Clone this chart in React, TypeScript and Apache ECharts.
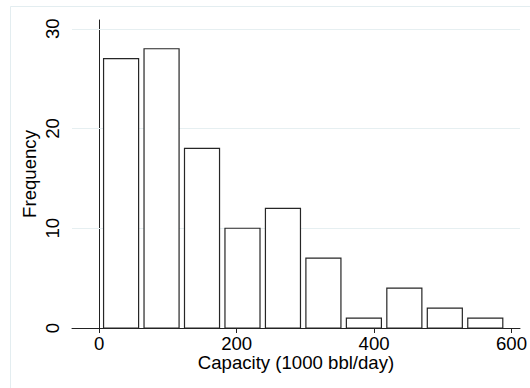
import React, { useEffect, useRef } from "react";
import * as echarts from "echarts";

// Histogram bin edges (1000 bbl/day) and frequencies
const binEdges = [2.3, 61.2, 120.1, 179.0, 237.9, 296.8, 355.7, 414.6, 473.5, 532.4, 591.3];
const frequencies = [27, 28, 18, 10, 12, 7, 1, 4, 2, 1];
const xTicks = [0, 200, 400, 600];
const yTicks = [0, 10, 20, 30];
const gridValues = [10, 20, 30];
const xTitle = "Capacity (1000 bbl/day)";
const yTitle = "Frequency";

const FONT = "'Liberation Sans', Arial, Helvetica, sans-serif";
const FS = 18.6;

export default function App() {
  const ref = useRef<HTMLDivElement>(null);
  useEffect(() => {
    if (!ref.current) return;
    const chart = echarts.init(ref.current, null, { renderer: "svg" });
    const data = frequencies.map((f, i) => [binEdges[i], binEdges[i + 1], f]);
    const gapFrac = 0.134;
    chart.setOption({
      animation: false,
      backgroundColor: "#ffffff",
      graphic: [
        {
          type: "rect",
          shape: { x: 10.5, y: 6.5, width: 540, height: 400 },
          style: { fill: "none", stroke: "#e3edf0", lineWidth: 1 },
          silent: true,
          z: 0,
        },
      ],
      grid: { left: 72, right: 6, top: 20, bottom: 60, containLabel: false },
      xAxis: {
        type: "value",
        min: -39.7,
        max: 612.4,
        name: xTitle,
        nameLocation: "middle",
        nameGap: 25,
        nameMoveOverlap: false,
        nameTextStyle: { fontFamily: FONT, fontSize: FS, color: "#000" },
        axisLine: { show: true, onZero: false, lineStyle: { color: "#222", width: 1 } },
        axisTick: { show: true, length: 5, customValues: xTicks, lineStyle: { color: "#222" } },
        axisLabel: {
          customValues: xTicks,
          fontFamily: FONT,
          fontSize: FS,
          color: "#000",
          margin: 6,
        },
        splitLine: { show: false },
      },
      yAxis: {
        type: "value",
        min: 0,
        max: 30.88,
        name: yTitle,
        nameLocation: "middle",
        nameGap: 33,
        nameRotate: 90,
        nameMoveOverlap: false,
        nameTextStyle: { fontFamily: FONT, fontSize: FS, color: "#000" },
        axisLine: { show: true, lineStyle: { color: "#222", width: 1 } },
        axisTick: { show: true, length: 4, customValues: yTicks, lineStyle: { color: "#222" } },
        axisLabel: {
          customValues: yTicks,
          rotate: 90,
          fontFamily: FONT,
          fontSize: FS,
          color: "#000",
          margin: 10,
        },
        splitLine: { show: false },
      },
      series: [
        {
          type: "custom",
          z: 3,
          data,
          renderItem: (params: any, api: any) => {
            const l = api.value(0);
            const r = api.value(1);
            const f = api.value(2);
            const g = (r - l) * gapFrac / 2;
            const p0 = api.coord([l + g, f]);
            const p1 = api.coord([r - g, 0]);
            return {
              type: "rect",
              shape: { x: p0[0], y: p0[1], width: p1[0] - p0[0], height: p1[1] - p0[1] },
              style: { fill: "#ffffff", stroke: "#262626", lineWidth: 1.2 },
            };
          },
          markLine: {
            silent: true,
            symbol: "none",
            z: 1,
            label: { show: false },
            lineStyle: { color: "#e6eff1", width: 1, type: "solid" },
            data: gridValues.map((v) => ({ yAxis: v })),
          },
        },
      ],
    });
    return () => chart.dispose();
  }, []);
  return (
    <div
      ref={ref}
      style={{ position: "fixed", left: 0, top: 0, width: 530, height: 388 }}
    />
  );
}
